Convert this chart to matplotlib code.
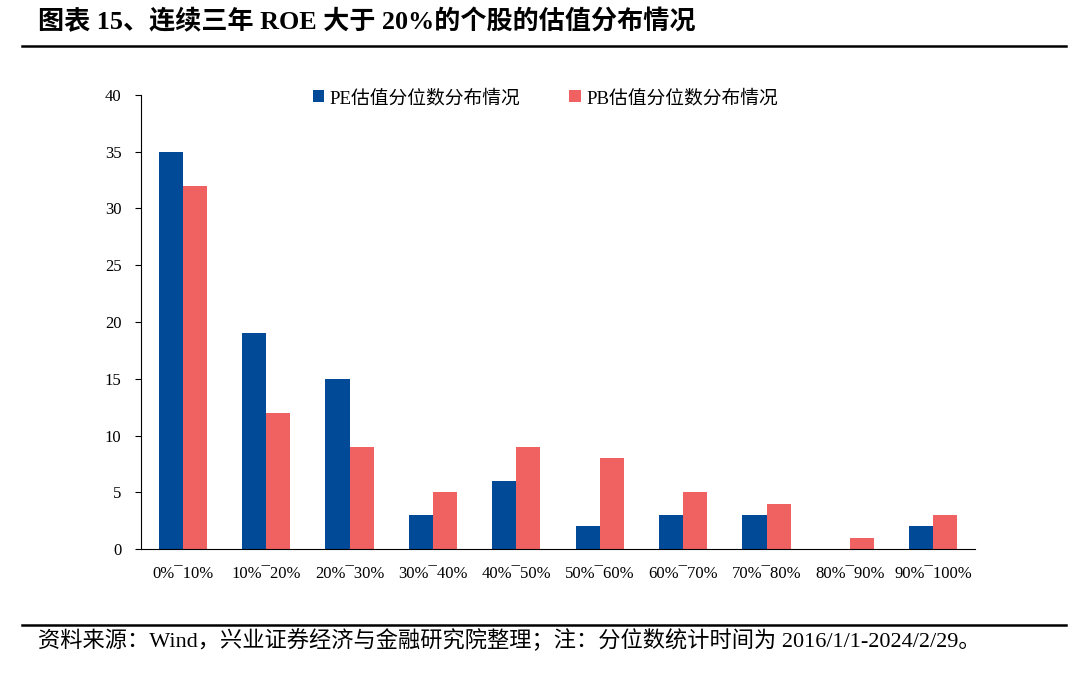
import numpy as np
import matplotlib
matplotlib.use("Agg")
import matplotlib.pyplot as plt

plt.rcParams['font.family'] = ['Liberation Serif', 'Noto Sans CJK SC']

# 分位区间
cats = ["0%¯10%", "10%¯20%", "20%¯30%", "30%¯40%", "40%¯50%",
        "50%¯60%", "60%¯70%", "70%¯80%", "80%¯90%", "90%¯100%"]
pe_vals = [35, 19, 15, 3, 6, 2, 3, 3, 0, 2]
pb_vals = [32, 12, 9, 5, 9, 8, 5, 4, 1, 3]
yticks = [0, 5, 10, 15, 20, 25, 30, 35, 40]

c_pe = "#004A97"
c_pb = "#F06262"

fig = plt.figure(figsize=(10.76, 6.78), dpi=100)
ax = fig.add_axes([141/1076, 1-549/678, 834/1076, 454/678])

x = np.arange(len(cats))
w = 0.29
ax.bar(x - w/2, pe_vals, w, color=c_pe, label="PE估值分位数分布情况")
ax.bar(x + w/2, pb_vals, w, color=c_pb, label="PB估值分位数分布情况")

ax.set_xlim(-0.5, len(cats) - 0.5)
ax.set_ylim(0, 40)
ax.set_yticks(yticks)
ax.set_xticks(x)
ax.set_xticklabels(cats, fontsize=12)
ax.tick_params(axis='x', length=0, pad=12)
ax.tick_params(axis='y', labelsize=12, length=4, width=0.8, pad=10)
for s in ['top', 'right']:
    ax.spines[s].set_visible(False)
ax.spines['left'].set_linewidth(0.8)
ax.spines['bottom'].set_linewidth(0.8)

ax.legend(loc='upper center', bbox_to_anchor=(0.485, 1.05), ncol=2, frameon=False,
          fontsize=13.5, handlelength=0.6, handleheight=0.6, handletextpad=0.3,
          columnspacing=2.6)

fig.text(38/1076, 1-22/678, "图表 15、连续三年 ROE 大于 20%的个股的估值分布情况",
         fontsize=18.8, fontweight='bold', va='center', ha='left')
fig.add_artist(plt.Line2D([22/1076, 1066/1076], [1-46/678, 1-46/678],
                          color='black', linewidth=1.8))
fig.add_artist(plt.Line2D([22/1076, 1066/1076], [1-625/678, 1-625/678],
                          color='black', linewidth=1.8))
fig.text(38/1076, 1-641/678,
         "资料来源：Wind，兴业证券经济与金融研究院整理；注：分位数统计时间为 2016/1/1-2024/2/29。",
         fontsize=16, va='center', ha='left')

fig.savefig("out.png", dpi=100)
